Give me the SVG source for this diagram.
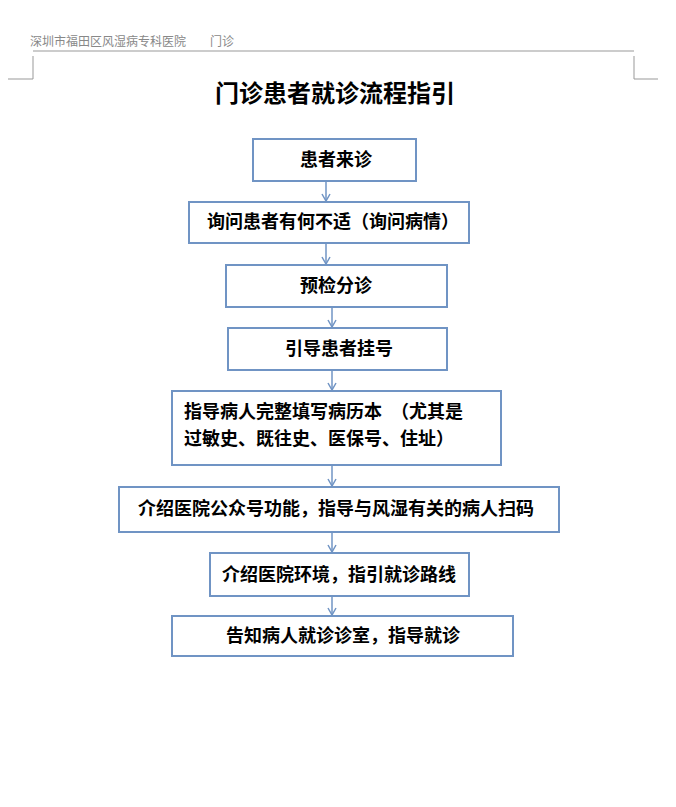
<svg xmlns="http://www.w3.org/2000/svg" width="676" height="807" viewBox="0 0 676 807">
<style>
.b{fill:#fff;stroke:#7094c4;stroke-width:2}
.t{font-family:"Noto Sans CJK SC",sans-serif;font-weight:bold;font-size:18px;fill:#000}
.c{stroke:#7094c4;stroke-width:1.5;fill:none;marker-end:url(#a)}
.g{stroke:#999;stroke-width:1;fill:none}
</style>
<defs><marker id="a" markerWidth="10" markerHeight="10" refX="8" refY="5" orient="auto" markerUnits="userSpaceOnUse"><path d="M1,1 L8,5 L1,9" fill="none" stroke="#7094c4" stroke-width="1.5"/></marker></defs>
<rect width="676" height="807" fill="#fff"/>
<text x="30" y="46" font-family="Noto Sans CJK SC,sans-serif" font-size="12" fill="#888">深圳市福田区风湿病专科医院　　门诊</text>
<path class="g" d="M33,51 H634 M33,56 V79 H8 M634,56 V79 H658"/>
<text x="335" y="102" text-anchor="middle" font-family="Noto Sans CJK SC,sans-serif" font-weight="bold" font-size="24">门诊患者就诊流程指引</text>
<g id="connectors">
<path class="c" d="M326,181 V201"/>
<path class="c" d="M326,243 V264"/>
<path class="c" d="M332,307 V327"/>
<path class="c" d="M332,370 V390"/>
<path class="c" d="M332,465 V486"/>
<path class="c" d="M332,532 V552"/>
<path class="c" d="M332,596 V615"/>
</g>
<g id="n1"><rect class="b" x="253" y="139" width="163" height="42"/><text class="t" x="336" y="166" text-anchor="middle">患者来诊</text></g>
<g id="n2"><rect class="b" x="189" y="202" width="280" height="41"/><text class="t" x="333" y="228" text-anchor="middle">询问患者有何不适（询问病情）</text></g>
<g id="n3"><rect class="b" x="226" y="265" width="221" height="42"/><text class="t" x="336" y="292" text-anchor="middle" font-size="19">预检分诊</text></g>
<g id="n4"><rect class="b" x="228" y="328" width="219" height="42"/><text class="t" x="339" y="355" text-anchor="middle">引导患者挂号</text></g>
<g id="n5"><rect class="b" x="172" y="391" width="329" height="74"/><text class="t" x="184" y="418">指导病人完整填写病历本　（尤其是</text><text class="t" x="184" y="445">过敏史、既往史、医保号、住址）</text></g>
<g id="n6"><rect class="b" x="119" y="487" width="440" height="45"/><text class="t" x="336" y="515" text-anchor="middle">介绍医院公众号功能，指导与风湿有关的病人扫码</text></g>
<g id="n7"><rect class="b" x="210" y="553" width="259" height="43"/><text class="t" x="339" y="581" text-anchor="middle">介绍医院环境，指引就诊路线</text></g>
<g id="n8"><rect class="b" x="172" y="616" width="341" height="40"/><text class="t" x="343" y="642" text-anchor="middle">告知病人就诊诊室，指导就诊</text></g>
</svg>
